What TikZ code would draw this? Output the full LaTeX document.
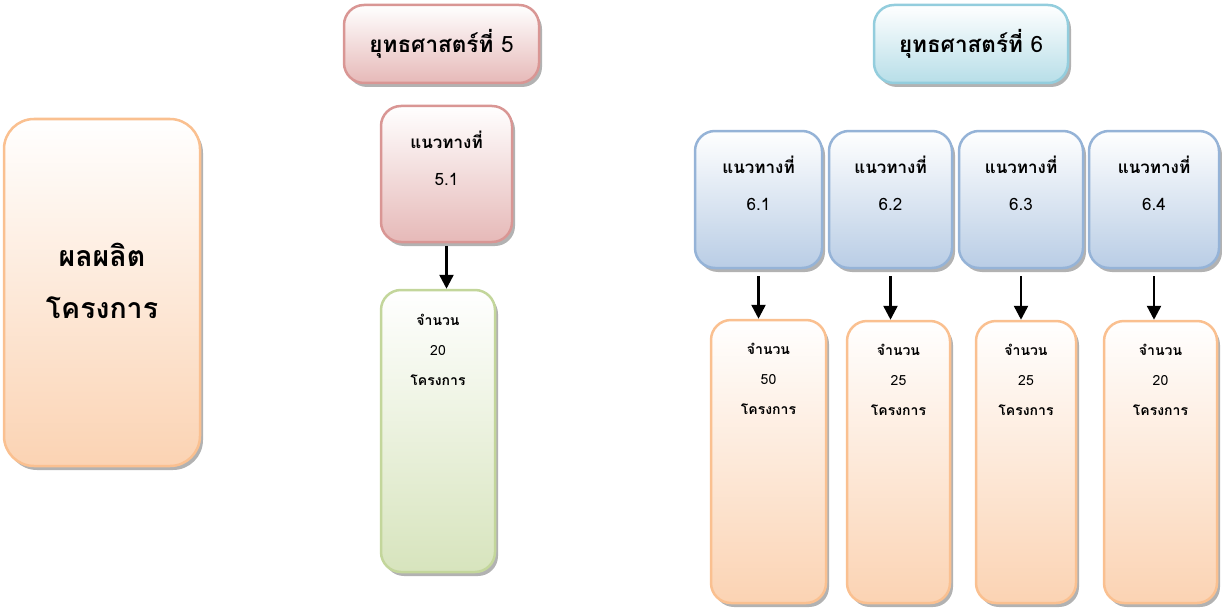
\documentclass[tikz,border=0pt]{standalone}
\usepackage{fontspec}
\setmainfont[Script=Thai]{Loma}
\usetikzlibrary{positioning,shadows,arrows.meta}

\definecolor{redline}{HTML}{D99694}
\definecolor{redfill}{HTML}{E6B9B8}
\definecolor{aqualine}{HTML}{93CDDD}
\definecolor{aquafill}{HTML}{B7DEE8}
\definecolor{blueline}{HTML}{95B3D7}
\definecolor{bluefill}{HTML}{B9CDE5}
\definecolor{orangeline}{HTML}{FAC090}
\definecolor{orangefill}{HTML}{FBD3B3}
\definecolor{greenline}{HTML}{C3D69B}
\definecolor{greenfill}{HTML}{D7E4BD}

\begin{document}
\begin{tikzpicture}[x=1pt,y=-1pt,
	box/.style={draw,line width=2.5pt,rounded corners=20pt,top color=white,
		drop shadow={shadow xshift=3pt,shadow yshift=-4pt,fill=black,opacity=.3}},
	redbox/.style={box,draw=redline,bottom color=redfill},
	aquabox/.style={box,draw=aqualine,bottom color=aquafill},
	bluebox/.style={box,draw=blueline,bottom color=bluefill},
	orangebox/.style={box,draw=orangeline,bottom color=orangefill},
	greenbox/.style={box,draw=greenline,bottom color=greenfill},
	headtext/.style={font=\fontsize{22.5}{27}\selectfont\bfseries},
	guidetext/.style={align=center,font=\fontsize{17}{37}\selectfont},
	counttext/.style={align=center,font=\fontsize{14}{30}\selectfont},
	arr/.style={line width=2.5pt,-{Triangle[width=14pt,length=14pt]}}]

	\useasboundingbox (0,0) rectangle (1222,607);

	\node[orangebox,minimum width=196pt,minimum height=347pt,rounded corners=30pt] (out) at (102,292.5) {};
	\node[align=center,font=\fontsize{28.5}{52}\selectfont\bfseries] (outtext) at ([yshift=12pt]out.center) {ผลผลิต\\โครงการ};

	\node[redbox,minimum width=195pt,minimum height=78pt] (s5) at (441.5,44) {};
	\node[headtext] (s5text) at (s5.center) {ยุทธศาสตร์ที่ {\mdseries 5}};
	\node[aquabox,minimum width=194pt,minimum height=78pt] (s6) at (971,44) {};
	\node[headtext] (s6text) at (s6.center) {ยุทธศาสตร์ที่ {\mdseries 6}};

	\node[redbox,minimum width=131pt,minimum height=136pt] (g51) at (446.5,174) {};
	\node[guidetext] (g51text) at ([yshift=15.5pt]g51.center) {\textbf{แนวทางที่}\\5.1};
	\node[greenbox,minimum width=114pt,minimum height=282pt] (c51) at (438,431) {};
	\node[counttext] (c51text) at ([yshift=81pt]c51.center) {\textbf{จำนวน}\\20\\\textbf{โครงการ}};
	\draw[arr] ([yshift=-3pt]g51.south) -- (g51.south |- c51.north);

	\node[bluebox,minimum width=127pt,minimum height=137pt] (g61) at (758.5,199.5) {};
	\node[bluebox,minimum width=123pt,minimum height=137pt] (g62) at (890.5,199.5) {};
	\node[bluebox,minimum width=124pt,minimum height=137pt] (g63) at (1021,199.5) {};
	\node[bluebox,minimum width=130pt,minimum height=137pt] (g64) at (1154,199.5) {};
	\node[guidetext] (g61text) at ([yshift=16pt]g61.center) {\textbf{แนวทางที่}\\6.1};
	\node[guidetext] (g62text) at ([yshift=16pt]g62.center) {\textbf{แนวทางที่}\\6.2};
	\node[guidetext] (g63text) at ([yshift=16pt]g63.center) {\textbf{แนวทางที่}\\6.3};
	\node[guidetext] (g64text) at ([yshift=16pt]g64.center) {\textbf{แนวทางที่}\\6.4};

	\node[orangebox,minimum width=115pt,minimum height=283pt] (c61) at (768.5,461.5) {};
	\node[orangebox,minimum width=103pt,minimum height=282pt] (c62) at (898.5,462) {};
	\node[orangebox,minimum width=100pt,minimum height=282pt] (c63) at (1026,462) {};
	\node[orangebox,minimum width=113pt,minimum height=282pt] (c64) at (1160.5,462) {};
	\node[counttext] (c61text) at ([yshift=83pt]c61.center) {\textbf{จำนวน}\\50\\\textbf{โครงการ}};
	\node[counttext] (c62text) at ([yshift=82pt]c62.center) {\textbf{จำนวน}\\25\\\textbf{โครงการ}};
	\node[counttext] (c63text) at ([yshift=82pt]c63.center) {\textbf{จำนวน}\\25\\\textbf{โครงการ}};
	\node[counttext] (c64text) at ([yshift=82pt]c64.center) {\textbf{จำนวน}\\20\\\textbf{โครงการ}};

	\draw[arr] ([yshift=-7pt]g61.south) -- (g61.south |- c61.north);
	\draw[arr] ([yshift=-7pt]g62.south) -- (g62.south |- c62.north);
	\draw[arr] ([yshift=-7pt]g63.south) -- (g63.south |- c63.north);
	\draw[arr] ([yshift=-7pt]g64.south) -- (g64.south |- c64.north);

\end{tikzpicture}
\end{document}
